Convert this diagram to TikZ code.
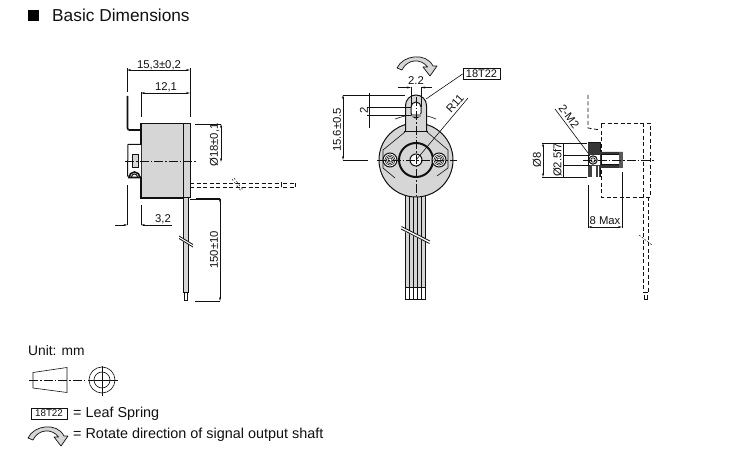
\documentclass[tikz,border=0pt]{standalone}
\usepackage{fontspec}
\setmainfont{Liberation Sans}
\usetikzlibrary{arrows.meta}
\definecolor{partgray}{HTML}{D6D6D6}
\definecolor{ink}{HTML}{111111}
\tikzset{
  x=1pt,y=-1pt,
  lbl/.style={inner sep=0pt,text=ink,font=\fontsize{11.3}{12}\selectfont},
  legendtext/.style={inner sep=0pt,anchor=west,text=ink,font=\fontsize{14.4}{16}\selectfont},
  thin line/.style={draw=ink,line width=0.6pt},
  dimline/.style={draw=ink,line width=0.7pt,{Stealth[length=4pt,width=2pt]}-{Stealth[length=4pt,width=2pt]}},
  extline/.style={draw=ink,line width=0.8pt},
  outline/.style={draw=ink,line width=1pt},
  heavy/.style={draw=ink,line width=1.6pt},
  axis/.style={draw=ink,line width=0.7pt,dash pattern=on 9pt off 2pt on 1.5pt off 2pt},
  dashline/.style={draw=ink,line width=0.8pt,dash pattern=on 4pt off 2.5pt},
  breakline/.style={draw=ink,line width=0.5pt},
  tagbox/.style={draw=ink,line width=0.8pt,inner sep=0pt,minimum height=10.5pt,text=ink},
  rotarrow/.pic={
    \path[draw=ink,fill=partgray,line width=0.7pt,line join=round]
      (-19,2) .. controls (-13,-11) and (10,-14) .. (17,0)
      -- (21,0) -- (14,10) -- (7,1) -- (11.5,1)
      .. controls (5,-8) and (-9,-7) .. (-14,4) -- cycle;
  }
}
\begin{document}
\begin{tikzpicture}
\useasboundingbox (0,0) rectangle (750,462);
\fill[white] (0,0) rectangle (750,462);
% title
\fill[black] (28,10) rectangle (39,21);
\node[inner sep=0pt,anchor=west,text=ink,font=\fontsize{17.3}{19}\selectfont] (title) at (52,15.5) {Basic Dimensions};

% ---------- left view
\draw[outline,fill=partgray] (141,123.5) rectangle (190,198);
\draw[thin line] (183,123.5) -- (183,198);
\draw[heavy] (141,123.5) -- (141,198) -- (183,198);
\draw[heavy] (141,123.5) -- (183,123.5);
\draw[outline,fill=white] (141,144.5) -- (128,144.5) -- (127.5,176) -- (141,177);
\draw[outline,fill=partgray] (132.5,155) rectangle (138,168);
\draw[heavy,fill=white] (129,177.5) arc[start angle=180,end angle=0,radius=5.5pt] -- cycle;
\draw[outline] (131.5,177) arc[start angle=180,end angle=0,radius=3pt];
\draw[heavy] (127.5,96) -- (127.5,128) arc[start angle=180,end angle=270,radius=2pt] -- (141,130);
\draw[axis] (125,161) -- (197,161);
% dashed wire
\draw[dashline] (190,183) -- (281,183) (190,187) -- (281,187);
\draw[thin line] (281.5,182.5) -- (281.5,187.5);
\draw[dashline] (283,183) -- (295,183) (283,187) -- (295,187);
\draw[thin line] (295,183) -- (295,187);
\draw[breakline,dash pattern=on 2pt off 2pt] (232,179) -- (241,191) (234,178) -- (243,190);
% wire down
\draw[outline,fill=partgray] (183.5,198) rectangle (188,293);
\draw[outline,fill=white] (184.5,293) rectangle (187.5,301);
\fill[white] (178,236.5) -- (193,244) -- (193,246.5) -- (178,239) -- cycle;
\draw[breakline,line width=0.8pt] (179,236) -- (193,244.5) (179,238.5) -- (193,247);
% dimensions left
\draw[extline] (127,68) -- (127,92) (190,68) -- (190,117) (141,92) -- (141,117);
\draw[dimline] (127,70) -- (190,70);
\draw[dimline] (141,93) -- (190,93);
\node[lbl] (d153) at (159,65) {15,3±0,2};
\node[lbl] (d121) at (166,87) {12,1};
\draw[extline] (195,124) -- (221,124) (190,199) -- (221,199);
\draw[dimline] (221,124) -- (221,162);
\node[lbl,rotate=90] (d18) at (214.5,145) {Ø18±0,1};
\draw[extline] (196,198) -- (220,198) (195,301) -- (220,301);
\draw[dimline] (220,198) -- (220,301);
\node[lbl,rotate=90] (d150) at (214,250) {150±10};
\draw[extline] (127.5,185) -- (127.5,225) (141,205) -- (141,225);
\draw[extline,{Stealth[length=4pt,width=2pt]}-] (127.5,225) -- (115,225);
\draw[extline,{Stealth[length=4pt,width=2pt]}-] (141,225) -- (172,225);
\node[lbl] (d32) at (163,219) {3,2};

% ---------- middle view
\foreach \x in {405.7,409.7,413.7,417.7,421.7} {
  \draw[outline,fill=partgray] (\x,190) rectangle ++(4,98);
  \draw[outline,fill=white] (\x,288) rectangle ++(4,12);
}
\fill[white] (401,227) -- (430,241) -- (430,244) -- (401,230) -- cycle;
\draw[breakline,line width=0.8pt] (401.5,226.5) -- (430,241) (401,229) -- (429.5,243.5);
\draw[outline,fill=partgray] (416,160) circle[radius=37pt];
\draw[thin line] (405,132) -- (383,150) -- (383,168) -- (395,178);
\draw[thin line] (427,132) -- (448,150) -- (448,168) -- (437,176);
% tab
\draw[outline,fill=partgray] (405.5,131) -- (405.5,105.5) arc[start angle=180,end angle=0,radius=10.5pt] -- (426.5,131);
\draw[heavy] (404,131.5) -- (428,131.5);
\draw[outline,fill=white] (411,107) arc[start angle=180,end angle=0,radius=5pt] -- (421,113) arc[start angle=0,end angle=-180,radius=5pt] -- cycle;
\fill[partgray!70!black] (411.5,114) rectangle (420.5,117);
\draw[thin line] (395,119) .. controls (398,118) and (401,117) .. (405,116);
\draw[thin line] (427,116) .. controls (431,117) and (434,118) .. (436,119);
% hub
\draw[draw=ink,line width=2pt,fill=partgray] (416,160) circle[radius=17pt];
\draw[outline,fill=white] (416,160) circle[radius=6pt];
% screws
\foreach \x/\n in {390/a,439/b} {
  \draw[outline,fill=white] (\x,160) circle[radius=7pt];
  \draw[thin line] (\x,160) circle[radius=5.2pt];
  \draw[thin line] (\x,160) circle[radius=3.6pt];
  \draw[thin line] (\x,160) circle[radius=2pt];
}
\draw[axis] (377,160) -- (457,160);
\draw[axis] (416,97) -- (416,197);
% R11
\draw[thin line] (416,160) -- (468,98);
\node[lbl,rotate=48] (r11) at (455,104) {R11};
% rotation arrow
\pic at (416,66) {rotarrow};
% 18T22 tag
\node[tagbox,minimum width=37pt,font=\fontsize{11}{12}\selectfont] (tag) at (481.5,74) {18T22};
\coordinate (tagend) at (426,99);
\draw[thin line] (tag.west) -- (tagend);
% dims
\draw[extline] (411,87) -- (411,107) (421,87) -- (421,107);
\draw[extline,{Stealth[length=4pt,width=2pt]}-] (411,87.5) -- (398,87.5);
\draw[extline,{Stealth[length=4pt,width=2pt]}-] (421,87.5) -- (432,87.5);
\node[lbl] (d22) at (416,81) {2.2};
\draw[extline] (367,107) -- (411,107) (367,115) -- (411,115);
\draw[extline] (369.5,93) -- (369.5,128);
\node[lbl,rotate=90] (d2) at (364,110.5) {2};
\draw[extline] (343,95) -- (405,95) (343,160) -- (368,160);
\draw[dimline] (343,95) -- (343,160);
\node[lbl,rotate=90] (d156) at (337,130) {15.6±0.5};

% ---------- right view
\draw[dashline] (588,95) -- (588,128) -- (600,130);
\draw[dashline] (601,123) -- (650,123) -- (650,197) -- (601,197) -- cycle;
\draw[dashline] (643,123) -- (643,292);
\draw[dashline] (648,197) -- (648,292);
\draw[thin line] (643,292) -- (648,292);
\draw[thin line] (644,295) -- (644,299) -- (647,299) -- (647,295);
\draw[breakline,dash pattern=on 2pt off 1.5pt] (639,235) -- (652,245);
\draw[outline,fill=white] (588,143) rectangle (600,177);
\fill[ink!85] (588,143) -- (600,143) -- (600,152) -- (622.5,152) -- (622.5,168) -- (600,168) -- (600,155) -- (588,155) -- cycle;
\draw[outline,fill=white] (601,155) rectangle (622.5,165);
\fill[ink!70] (622.5,152) rectangle (619,168);
\fill[ink!80] (588,165) rectangle (600,177);
\fill[white] (592,166) rectangle (595.5,177);
\fill[white] (598,166) rectangle (599,177);
\draw[outline,fill=partgray!60] (593,160) circle[radius=4.2pt];
\draw[thin line] (593,160) circle[radius=2.2pt];
\draw[axis] (583,160) -- (655,160);
% dims
\draw[extline] (542,143) -- (587,143) (542,177) -- (587,177);
\draw[dimline] (543,143) -- (543,177);
\node[lbl,rotate=90] (d8) at (537,160) {Ø8};
\draw[extline] (563,155) -- (590,155) (563,165) -- (590,165);
\draw[extline] (563.5,143) -- (563.5,178);
\node[lbl,rotate=90] (d25) at (557.5,160) {Ø2.5f7};
\coordinate (m2a) at (555,109);
\coordinate (m2b) at (588,153);
\draw[thin line] (m2a) -- (m2b);
\node[lbl,rotate=-53] (m2) at (569,116.5) {2-M2};
\draw[extline] (588,185) -- (588,228) (622,172) -- (622,228);
\draw[dimline] (588,227) -- (622,227);
\node[lbl] (d8m) at (605,221) {8 Max};

% ---------- legend
\node[legendtext,font=\fontsize{13.8}{15}\selectfont] (unit) at (28,351) {Unit: mm};
\draw[thin line,fill=white] (33,372.5) -- (67,367.5) -- (67,392.5) -- (33,388) -- cycle;
\draw[axis] (29,380) -- (85,380);
\draw[thin line] (102,380) circle[radius=13pt];
\draw[thin line] (102,380) circle[radius=8pt];
\draw[thin line] (88,380) -- (118,380) (102,366) -- (102,396);
\node[tagbox,minimum width=36pt,minimum height=11pt,font=\fontsize{9.8}{11}\selectfont] (legtag) at (49,413.5) {18T22};
\node[legendtext] (legspring) at (73,414) {= Leaf Spring};
\pic at (47,436) {rotarrow};
\node[legendtext] (legrot) at (73,435) {= Rotate direction of signal output shaft};
\end{tikzpicture}
\end{document}
